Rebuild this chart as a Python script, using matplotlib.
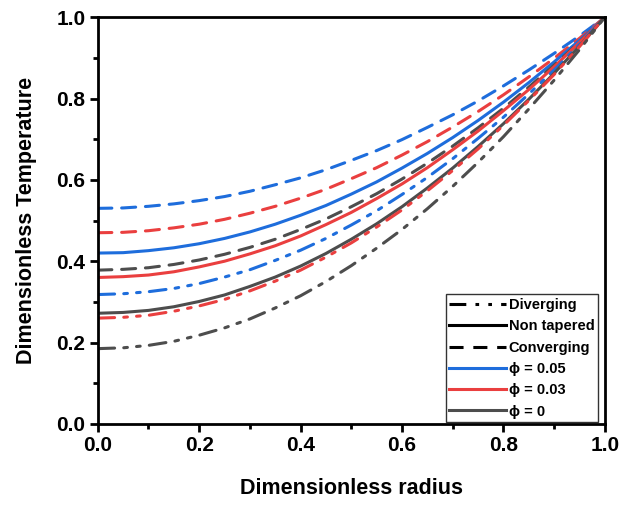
import matplotlib
matplotlib.use("Agg")
import matplotlib.pyplot as plt
from matplotlib.lines import Line2D
from matplotlib.ticker import MultipleLocator

plt.rcParams['font.family'] = ['Liberation Sans', 'DejaVu Sans']
plt.rcParams['font.weight'] = 'bold'

r = [0.0, 0.05, 0.1, 0.15, 0.2, 0.25, 0.3, 0.35, 0.4, 0.45, 0.5,
     0.55, 0.6, 0.65, 0.7, 0.75, 0.8, 0.85, 0.9, 0.95, 1.0]

# phi = 0.05 (blue)
blue_conv = [0.530, 0.531, 0.535, 0.541, 0.549, 0.559, 0.572, 0.588, 0.605, 0.625, 0.648,
             0.672, 0.699, 0.729, 0.760, 0.794, 0.831, 0.870, 0.911, 0.954, 1.0]
blue_non = [0.420, 0.421, 0.426, 0.433, 0.443, 0.456, 0.472, 0.491, 0.513, 0.537, 0.565,
            0.595, 0.629, 0.665, 0.704, 0.746, 0.791, 0.839, 0.890, 0.943, 1.0]
blue_div = [0.318, 0.320, 0.325, 0.333, 0.345, 0.361, 0.379, 0.402, 0.427, 0.456, 0.489,
            0.524, 0.564, 0.606, 0.652, 0.702, 0.754, 0.811, 0.870, 0.933, 1.0]
# phi = 0.03 (red)
red_conv = [0.470, 0.471, 0.475, 0.482, 0.491, 0.503, 0.518, 0.535, 0.555, 0.577, 0.603,
            0.630, 0.661, 0.694, 0.730, 0.768, 0.809, 0.853, 0.899, 0.948, 1.0]
red_non = [0.360, 0.362, 0.366, 0.374, 0.386, 0.400, 0.418, 0.438, 0.462, 0.490, 0.520,
           0.554, 0.590, 0.630, 0.674, 0.720, 0.770, 0.822, 0.878, 0.938, 1.0]
red_div = [0.260, 0.262, 0.267, 0.277, 0.290, 0.306, 0.327, 0.351, 0.378, 0.410, 0.445,
           0.484, 0.526, 0.573, 0.623, 0.676, 0.734, 0.795, 0.859, 0.928, 1.0]
# phi = 0 (gray)
gray_conv = [0.378, 0.380, 0.384, 0.392, 0.403, 0.417, 0.434, 0.454, 0.478, 0.504, 0.534,
             0.566, 0.602, 0.641, 0.683, 0.728, 0.776, 0.828, 0.882, 0.939, 1.0]
gray_non = [0.272, 0.274, 0.279, 0.288, 0.301, 0.317, 0.338, 0.361, 0.388, 0.419, 0.454,
            0.492, 0.534, 0.580, 0.629, 0.682, 0.738, 0.798, 0.862, 0.929, 1.0]
gray_div = [0.185, 0.187, 0.193, 0.203, 0.218, 0.236, 0.258, 0.285, 0.315, 0.350, 0.389,
            0.432, 0.478, 0.529, 0.584, 0.643, 0.706, 0.774, 0.845, 0.920, 1.0]

x_ticks = [0.0, 0.2, 0.4, 0.6, 0.8, 1.0]
y_ticks = [0.0, 0.2, 0.4, 0.6, 0.8, 1.0]

BLUE = '#1e6ddc'
RED = '#ea3f3f'
GRAY = '#4d4d4d'

ls_div = (0, (5.5, 3, 1.2, 3, 1.2, 3))
ls_non = '-'
ls_conv = (0, (4.6, 3.2))

fig = plt.figure(figsize=(6.19, 5.07), dpi=100)
ax = fig.add_axes([0.158, 0.164, 0.819, 0.802])

lw = 2.2
series = [
    (blue_conv, BLUE, ls_conv), (red_conv, RED, ls_conv), (blue_non, BLUE, ls_non),
    (gray_conv, GRAY, ls_conv), (red_non, RED, ls_non), (blue_div, BLUE, ls_div),
    (gray_non, GRAY, ls_non), (red_div, RED, ls_div), (gray_div, GRAY, ls_div),
]
for ys, c, ls in series:
    ax.plot(r, ys, color=c, linestyle=ls, linewidth=lw, dash_capstyle='round',
            solid_capstyle='butt')

ax.set_xlim(0, 1)
ax.set_ylim(0, 1)
ax.set_xticks(x_ticks)
ax.set_yticks(y_ticks)
ax.set_xticklabels([f"{v:.1f}" for v in x_ticks])
ax.set_yticklabels([f"{v:.1f}" for v in y_ticks])
ax.xaxis.set_minor_locator(MultipleLocator(0.1))
ax.yaxis.set_minor_locator(MultipleLocator(0.1))
ax.tick_params(which='major', direction='out', length=6, width=2, labelsize=15, pad=3)
ax.tick_params(which='minor', direction='out', length=3.5, width=2)
for lab in ax.get_xticklabels() + ax.get_yticklabels():
    lab.set_fontweight('bold')
for s in ax.spines.values():
    s.set_linewidth(2)

ax.set_xlabel('Dimensionless radius', fontsize=15.5, fontweight='bold', labelpad=16)
ax.set_ylabel('Dimensionless Temperature', fontsize=15.5, fontweight='bold', labelpad=14)

handles = [
    Line2D([], [], color='black', linestyle=ls_div, linewidth=2.2),
    Line2D([], [], color='black', linestyle=ls_non, linewidth=2.2),
    Line2D([], [], color='black', linestyle=ls_conv, linewidth=2.2),
    Line2D([], [], color=BLUE, linewidth=2.2),
    Line2D([], [], color=RED, linewidth=2.2),
    Line2D([], [], color=GRAY, linewidth=2.2),
]
labels = ['Diverging', 'Non tapered', 'Converging', 'ϕ = 0.05', 'ϕ = 0.03', 'ϕ = 0']
leg = ax.legend(handles, labels, loc='lower right', bbox_to_anchor=(0.9865, 0.004),
                prop={'weight': 'bold', 'size': 10.5}, frameon=True, fancybox=False,
                handlelength=3.9, handletextpad=0.15, labelspacing=0.5,
                borderpad=0.25, borderaxespad=0.0)
leg.get_frame().set_edgecolor('black')
leg.get_frame().set_linewidth(1)

fig.savefig('out.png', dpi=100)
